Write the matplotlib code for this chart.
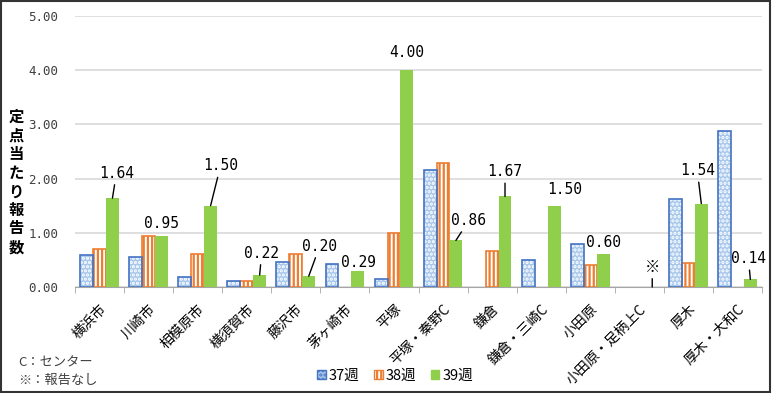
import numpy as np
import matplotlib
matplotlib.use('Agg')
import matplotlib.pyplot as plt
from matplotlib.patches import Patch, Rectangle

plt.rcParams['font.family'] = ['Noto Sans CJK JP', 'DejaVu Sans']
plt.rcParams['hatch.linewidth'] = 1.6

# data
areas = ['横浜市', '川崎市', '相模原市', '横須賀市', '藤沢市', '茅ヶ崎市', '平塚',
         '平塚・秦野C', '鎌倉', '鎌倉・三崎C', '小田原', '小田原・足柄上C', '厚木', '厚木・大和C']
weeks = ['37週', '38週', '39週']
w37 = [0.59, 0.55, 0.19, 0.11, 0.47, 0.42, 0.14, 2.15, np.nan, 0.50, 0.80, np.nan, 1.62, 2.87]
w38 = [0.71, 0.94, 0.61, 0.11, 0.60, np.nan, 1.00, 2.29, 0.67, np.nan, 0.40, np.nan, 0.45, np.nan]
w39 = [1.64, 0.95, 1.50, 0.22, 0.20, 0.29, 4.00, 0.86, 1.67, 1.50, 0.60, 0.00, 1.54, 0.14]
w39_labels = ['1.64', '0.95', '1.50', '0.22', '0.20', '0.29', '4.00',
              '0.86', '1.67', '1.50', '0.60', '※', '1.54', '0.14']
yticks = [0, 1, 2, 3, 4, 5]

# label placement (pixel offsets from bar top) and leader line flags
lab_dx = [4, 0, 10, 2, 11, 1, 0, 13, 0, 11, 0, 0, -4, -2]
lab_dy = [25, 12, 40, 22, 30, 9, 18, 20, 25, 16, 12, 20, 33, 21]
leader = [1, 0, 1, 1, 1, 0, 0, 1, 1, 0, 0, 1, 1, 1]

blue_face, blue_edge = '#A7C7EB', '#4472C4'
orange = '#ED7D31'
green = '#8FCF4C'

fig = plt.figure(figsize=(7.72, 3.93), dpi=100)
ax = fig.add_axes([75 / 772, 1 - 287 / 393, 687 / 772, 271 / 393])

x = np.arange(len(areas))
bw = 0.263

# 37週: dotted fill + blue outline
ax.bar(x - bw, w37, bw, color=blue_face, edgecolor='white', hatch='....', linewidth=0, zorder=3)
ax.bar(x - bw, w37, bw, fill=False, edgecolor=blue_edge, linewidth=1.2, zorder=4)
# 38週: vertical stripes
ax.bar(x, w38, bw, color='white', edgecolor=orange, hatch='||||', linewidth=1.2, zorder=3)
# 39週: solid
ax.bar(x + bw, [v if v > 0 else np.nan for v in w39], bw, color=green, linewidth=0, zorder=3)

for i, (v, s) in enumerate(zip(w39, w39_labels)):
    props = dict(arrowstyle='-', color='black', lw=1, shrinkA=1, shrinkB=0) if leader[i] else None
    ax.annotate(s, xy=(x[i] + bw, v), xytext=(lab_dx[i], lab_dy[i]),
                textcoords='offset pixels', ha='center', va='center',
                fontsize=11 if s == '※' else 10.5, family=['DejaVu Sans Mono', 'Noto Sans CJK JP'],
                arrowprops=props, zorder=5)

ax.set_xlim(-0.5, len(areas) - 0.5)
ax.set_ylim(0, 5)
ax.set_yticks(yticks)
ax.set_yticklabels([f'{t:.2f}' for t in yticks], family='DejaVu Sans Mono', fontsize=9, color='#404040')
ax.tick_params(axis='y', length=0, pad=12)
ax.yaxis.grid(True, color='#D9D9D9', lw=1.2, zorder=0)
ax.set_axisbelow(True)

ax.set_xticks(x)
ax.set_xticklabels(areas, rotation=45, ha='right', rotation_mode='anchor', fontsize=10)
ax.set_xticks(np.arange(-0.5, len(areas)), minor=True)
ax.tick_params(axis='x', which='major', length=0, pad=11)
ax.tick_params(axis='x', which='minor', length=4, color='#A6A6A6')

for side in ['top', 'right', 'left']:
    ax.spines[side].set_visible(False)
ax.spines['bottom'].set_color('#A6A6A6')

fig.text(16 / 772, 1 - 182 / 393, '\n'.join('定点当たり報告数'), ha='center', va='center',
         fontsize=11, fontweight='bold', linespacing=1.2)

fig.text(18 / 772, 1 - 363 / 393, 'C：センター', ha='left', va='center', fontsize=9.5, color='#404040')
fig.text(18 / 772, 1 - 380 / 393, '※：報告なし', ha='left', va='center', fontsize=9.5, color='#404040')

handles = [Patch(facecolor=blue_face, edgecolor=blue_edge, hatch='....'),
           Patch(facecolor='white', edgecolor=orange, hatch='||||'),
           Patch(facecolor=green, edgecolor=green)]
fig.legend(handles, weeks, loc='center', bbox_to_anchor=(395 / 772, 1 - 376 / 393), ncol=3,
           frameon=False, fontsize=10.5, handlelength=0.6, handleheight=0.6,
           handletextpad=0.2, columnspacing=1.0)

fig.patches.append(Rectangle((0.001, 0.002), 0.997, 0.996, transform=fig.transFigure,
                             fill=False, edgecolor='#333333', lw=1.5))

fig.savefig('out.png', dpi=100)
